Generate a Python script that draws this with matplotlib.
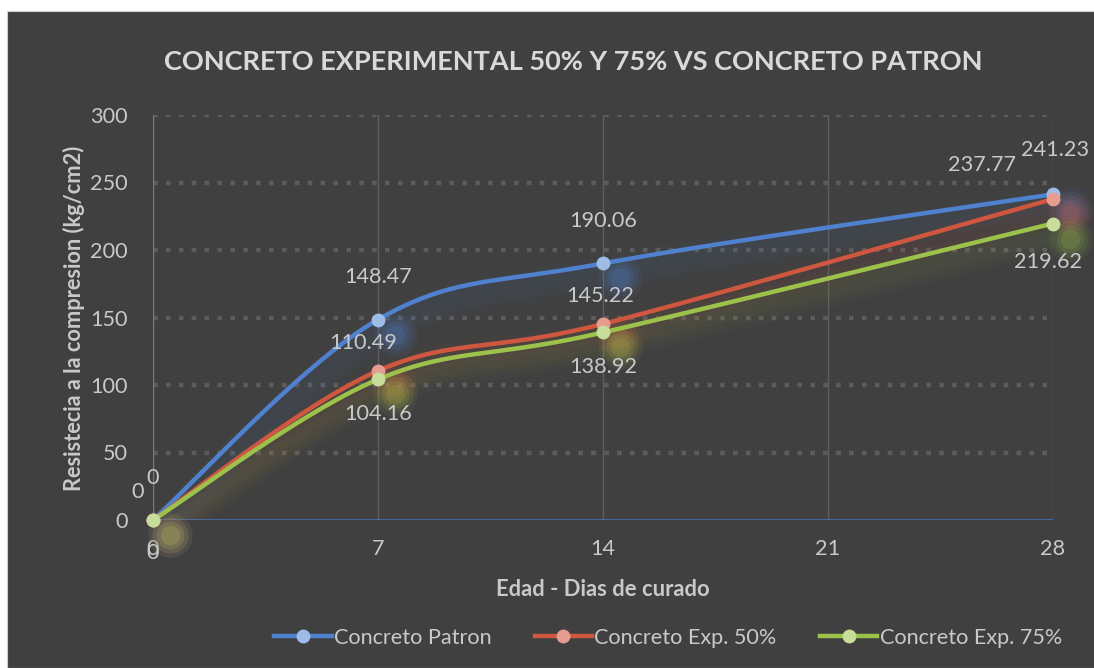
import numpy as np
import matplotlib
matplotlib.use("Agg")
import matplotlib.pyplot as plt
from matplotlib.patches import Rectangle
from matplotlib.lines import Line2D

# ---- data -------------------------------------------------------------
dias = [0, 7, 14, 21, 28]
edad_ticks = [0, 7, 14, 21, 28]
x_pts = [0, 7, 14, 28]
patron = [0, 148.47, 190.06, 241.23]
exp50 = [0, 110.49, 145.22, 237.77]
exp75 = [0, 104.16, 138.92, 219.62]
series_names = ["Concreto Patron", "Concreto Exp. 50%", "Concreto Exp. 75%"]
y_ticks = [0, 50, 100, 150, 200, 250, 300]

# ---- style ------------------------------------------------------------
BG = "#404040"
TXT = "#c9c9c9"
line_cols = ["#4f81cf", "#d0573f", "#9cc24c"]
mark_cols = ["#9dbce6", "#e79c90", "#c7dd9a"]
FONT = "Lato"
FS = 15.6

W, H = 1094, 668
fig = plt.figure(figsize=(W / 100, H / 100), dpi=100, facecolor="white")

# dark chart panel
fig.patches.append(Rectangle((7 / W, 0), 1.0, 1 - 11 / H, transform=fig.transFigure,
                             facecolor=BG, edgecolor="#cfcfcf", lw=0.8, zorder=-10))

L, R, B, T = 153, 1053, 520, 115
ax = fig.add_axes([L / W, 1 - B / H, (R - L) / W, (B - T) / H], zorder=2)
ax.set_facecolor("none")
ax.set_xlim(0, 28)
ax.set_ylim(0, 300)
for s in ax.spines.values():
    s.set_visible(False)

sx = (R - L) / 28.0
sy = (B - T) / 300.0


def smooth(xs, ys, n=60):
    """Bezier smoothing (cardinal spline) evaluated in pixel space."""
    P = np.column_stack([np.asarray(xs, float) * sx, np.asarray(ys, float) * sy])
    out = [P[0]]
    for i in range(len(P) - 1):
        p0 = P[i - 1] if i > 0 else P[i]
        p1, p2 = P[i], P[i + 1]
        p3 = P[i + 2] if i + 2 < len(P) else P[i + 1]
        c1 = p1 + (p2 - p0) / 6.0
        c2 = p2 - (p3 - p1) / 6.0
        t = np.linspace(0, 1, n)[1:, None]
        seg = ((1 - t) ** 3) * p1 + 3 * ((1 - t) ** 2) * t * c1 + 3 * (1 - t) * t ** 2 * c2 + t ** 3 * p2
        out.extend(seg)
    out = np.array(out)
    return out[:, 0] / sx, out[:, 1] / sy


# gridlines
for v in y_ticks[1:]:
    ax.axhline(v, color="#5c5c5c", lw=3.2, dashes=(1.05, 1.85), solid_capstyle="butt",
               dash_capstyle="butt", zorder=1)
for v in edad_ticks:
    ax.axvline(v, color="#5e5e5e" if v else "#7a7a7a", lw=1.0, zorder=1)
ax.axhline(0, color="#4472c4", lw=1.8, zorder=2)

# soft shadows offset down-right
dx_sh, dy_sh = 17 / sx, -15 / sy
series = [patron, exp50, exp75]
for ys, lc in zip(series, line_cols):
    cx, cy = smooth(x_pts, ys)
    for w, a in [(26, 0.025), (18, 0.03), (10, 0.035)]:
        ax.plot(cx + dx_sh * 0.6, cy + dy_sh * 0.6, color=lc, lw=w, alpha=a,
                solid_capstyle="round", zorder=2)
    for xv, yv in zip(x_pts, ys):
        for ms, a in [(32, 0.07), (26, 0.1), (20, 0.14), (14, 0.18)]:
            ax.plot(xv + dx_sh, yv + dy_sh, "o", ms=ms, color=lc, alpha=a, mec="none",
                    zorder=2, clip_on=False)

# series lines
for ys, lc, mc in zip(series, line_cols, mark_cols):
    cx, cy = smooth(x_pts, ys)
    ax.plot(cx, cy, color=lc, lw=3.2, zorder=4, solid_capstyle="round")
    ax.plot(x_pts, ys, "o", ms=10, color=mc, mec="none", zorder=5, clip_on=False)

# data labels (offsets in pixels)
offs = [
    [(0, 42), (0, 43), (0, 42), (2, 44)],
    [(-15, 28), (-15, 28), (-3, 28), (-71, 34)],
    [(0, -33), (0, -35), (0, -35), (-5, -38)],
]
for ys, off in zip(series, offs):
    for xv, yv, (ox, oy) in zip(x_pts, ys, off):
        lab = f"{yv:.2f}" if yv else "0"
        ax.annotate(lab, (xv, yv), xytext=(ox * 0.72, oy * 0.72), textcoords="offset points",
                    ha="center", va="center", color=TXT, fontsize=FS, family=FONT,
                    zorder=6, annotation_clip=False)

ax.set_xticks(edad_ticks)
ax.set_yticks(y_ticks)
ax.tick_params(length=0, colors=TXT, labelsize=FS, pad=14)
ax.tick_params(axis="y", pad=18)
for lbl in ax.get_xticklabels() + ax.get_yticklabels():
    lbl.set_family(FONT)

fig.text(603 / W, 1 - 589 / H, "Edad - Dias de curado", ha="center", va="center",
         color=TXT, fontsize=15.8, fontweight="bold", family=FONT)
fig.text(74 / W, 1 - 318 / H, "Resistecia a la compresion (kg/cm2)", ha="center",
         va="center", rotation=90, color=TXT, fontsize=15.7, fontweight="bold", family=FONT)
fig.text(573 / W, 1 - 62 / H, "CONCRETO EXPERIMENTAL 50% Y 75% VS CONCRETO PATRON",
         ha="center", va="center", color="#d9d9d9", fontsize=19.5, fontweight="bold",
         family=FONT)

handles = [Line2D([], [], color=lc, lw=3.2, marker="o", ms=10, mfc=mc, mec="none")
           for lc, mc in zip(line_cols, mark_cols)]
leg = fig.legend(handles, series_names, loc="center", ncol=3,
                 bbox_to_anchor=(668 / W, 1 - 638 / H), frameon=False,
                 handlelength=2.65, handletextpad=0.1, columnspacing=2.0,
                 prop={"family": FONT, "size": FS})
for t in leg.get_texts():
    t.set_color(TXT)

fig.savefig("out.png", dpi=100, facecolor="white")
